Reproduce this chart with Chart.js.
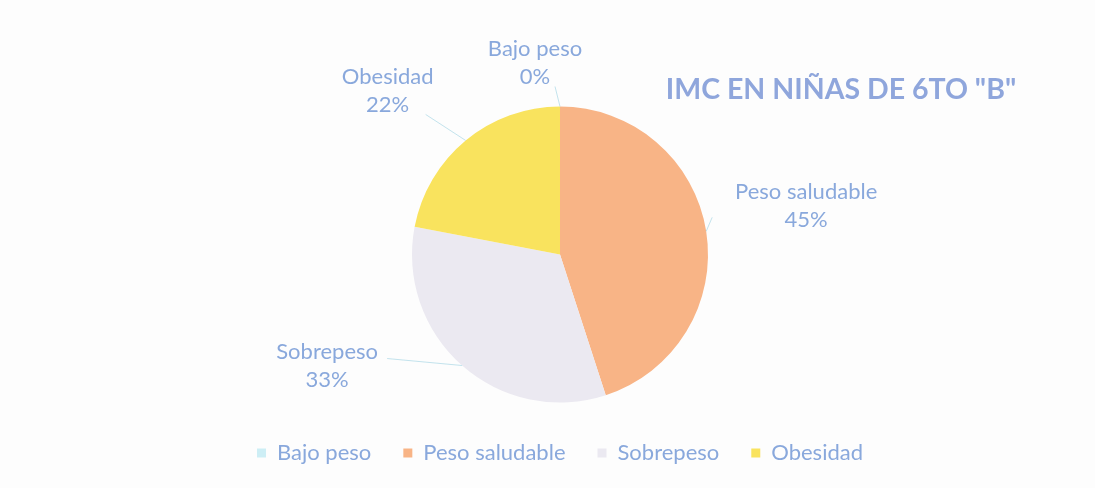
<!DOCTYPE html>
<html>
<head>
<meta charset="utf-8">
<script src="https://cdn.jsdelivr.net/npm/chart.js@4.4.0/dist/chart.umd.min.js"></script>
<style>
  html, body { margin: 0; padding: 0; background: #fdfdfd; }
  #wrap { width: 1095px; height: 488px; }
</style>
</head>
<body>
<div id="wrap"><canvas id="imcChart" width="1095" height="488"></canvas></div>
<script>
const categories = ['Bajo peso', 'Peso saludable', 'Sobrepeso', 'Obesidad'];
const percentages = [0, 45, 33, 22];
const chartTitle = 'IMC EN NIÑAS DE 6TO "B"';

const sliceColors = ['#cdeef5', '#f8b486', '#ebe9f1', '#f9e35e'];
const textColor = '#89a8dc';

// label offsets from the outer edge of each slice (like Excel "best fit")
const labelOffsets = [[-25, -44], [100, -25], [-135, 0], [-78, -50]];
const leaderEnds = [[-5, -20], [6, -14], [-75, -7], [-40, -26]];

const outsideLabels = {
    id: 'outsideLabels',
    afterDatasetsDraw(chart) {
        const ctx = chart.ctx;
        const meta = chart.getDatasetMeta(0);
        ctx.save();
        meta.data.forEach((arc, i) => {
            const p = arc.getProps(['x', 'y', 'startAngle', 'endAngle', 'outerRadius']);
            const mid = (p.startAngle + p.endAngle) / 2;
            const ex = p.x + Math.cos(mid) * p.outerRadius;
            const ey = p.y + Math.sin(mid) * p.outerRadius;

            // leader line
            ctx.strokeStyle = 'rgba(170, 215, 230, 0.7)';
            ctx.lineWidth = 1;
            ctx.beginPath();
            ctx.moveTo(ex + leaderEnds[i][0], ey + leaderEnds[i][1]);
            ctx.lineTo(ex, ey);
            ctx.stroke();

            const lx = ex + labelOffsets[i][0];
            const ly = ey + labelOffsets[i][1];
            ctx.fillStyle = textColor;
            ctx.font = '22px Lato';
            ctx.textAlign = 'center';
            ctx.textBaseline = 'middle';
            ctx.fillText(categories[i], lx, ly - 14);
            ctx.fillText(percentages[i] + '%', lx, ly + 14);
        });

        ctx.fillStyle = '#8fa6dc';
        ctx.font = 'bold 28.5px Lato';
        ctx.textAlign = 'center';
        ctx.textBaseline = 'middle';
        ctx.fillText(chartTitle, 841, 90);
        ctx.restore();
    }
};

new Chart(document.getElementById('imcChart'), {
    type: 'pie',
    data: {
        labels: categories,
        datasets: [{
            data: percentages,
            backgroundColor: sliceColors,
            borderWidth: 0,
            radius: 148
        }]
    },
    options: {
        responsive: false,
        animation: false,
        layout: {
            padding: { top: 99, bottom: 14, left: 25, right: 0 }
        },
        plugins: {
            legend: {
                position: 'bottom',
                labels: {
                    color: textColor,
                    font: { family: 'Lato', size: 22 },
                    boxWidth: 9,
                    boxHeight: 9,
                    padding: 32
                }
            },
            tooltip: { enabled: false },
            title: { display: false }
        }
    },
    plugins: [outsideLabels]
});
</script>
</body>
</html>
